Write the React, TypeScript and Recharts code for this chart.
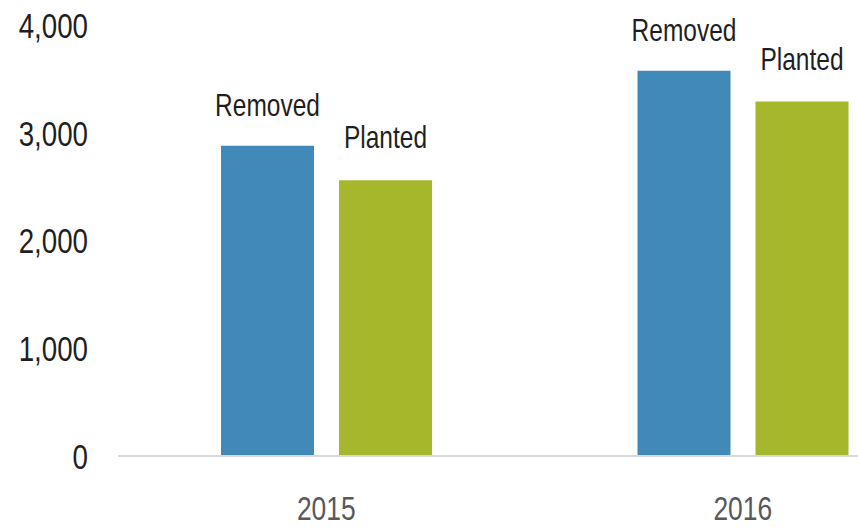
import React from 'react'
import { BarChart, Bar, XAxis, YAxis, LabelList } from 'recharts'

const years = ['2015', '2016']
const removed = [2880, 3575]
const planted = [2560, 3290]
const yTicks = [0, 1000, 2000, 3000, 4000]

const data = years.map((year, i) => ({
  year,
  Removed: removed[i],
  Planted: planted[i],
}))

const FONT = '"Liberation Sans", Arial, sans-serif'

// narrow text: scale horizontally to get a condensed look
function NarrowText({ x, y, anchor, size, fill, scale, children, dy }: any) {
  return (
    <g transform={`translate(${x},${y}) scale(${scale},1)`}>
      <text
        x={0}
        y={0}
        dy={dy}
        textAnchor={anchor}
        fontSize={size}
        fontFamily={FONT}
        fill={fill}
      >
        {children}
      </text>
    </g>
  )
}

function YTick({ x, y, payload }: any) {
  return (
    <NarrowText x={x} y={y} anchor="end" size={36} scale={0.77} fill="#1f1f1f" dy="0.355em">
      {payload.value.toLocaleString('en-US')}
    </NarrowText>
  )
}

function XTick({ x, y, payload }: any) {
  return (
    <NarrowText x={x} y={y + 64} anchor="middle" size={33} scale={0.8} fill="#595959">
      {payload.value}
    </NarrowText>
  )
}

function makeLabel(name: string, offset: number) {
  return (props: any) => {
    const { x, y, width } = props
    return (
      <NarrowText
        x={Number(x) + Number(width) / 2}
        y={Number(y) - offset}
        anchor="middle"
        size={31}
        scale={0.79}
        fill="#1f1f1f"
      >
        {name}
      </NarrowText>
    )
  }
}

export default function App() {
  return (
    <div
      style={{
        position: 'absolute',
        left: 0,
        top: 0,
        width: 858,
        height: 527,
        overflow: 'hidden',
        background: '#fff',
      }}
    >
      <BarChart
        width={960}
        height={527}
        data={data}
        margin={{ top: 25, right: 9, left: 0, bottom: 0 }}
        barSize={93}
        barGap={25}
      >
        <XAxis
          dataKey="year"
          height={71}
          tickLine={false}
          tickSize={0}
          tickMargin={0}
          axisLine={{ stroke: '#d9d9d9', strokeWidth: 2 }}
          tick={<XTick />}
        />
        <YAxis
          width={118}
          domain={[0, 4000]}
          ticks={yTicks}
          axisLine={false}
          tickLine={false}
          tickSize={0}
          tickMargin={30}
          tick={<YTick />}
        />
        <Bar dataKey="Removed" fill="#4189b8" isAnimationActive={false}>
          <LabelList dataKey="Removed" content={makeLabel('Removed', 30)} />
        </Bar>
        <Bar dataKey="Planted" fill="#a6b72c" isAnimationActive={false}>
          <LabelList dataKey="Planted" content={makeLabel('Planted', 32)} />
        </Bar>
      </BarChart>
    </div>
  )
}
